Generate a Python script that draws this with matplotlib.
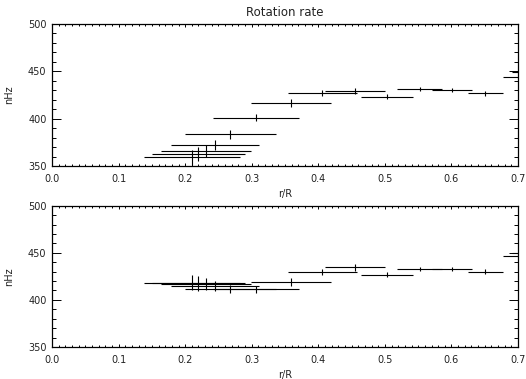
import matplotlib.pyplot as plt
from matplotlib.ticker import MultipleLocator

# radial positions and half-widths of the kernels (same for both panels)
r = [0.210, 0.220, 0.231, 0.245, 0.268, 0.307, 0.359, 0.406, 0.455, 0.503, 0.552, 0.601, 0.651, 0.707, 0.716]
r_err = [0.0716, 0.0701, 0.0676, 0.0663, 0.0681, 0.0646, 0.0601, 0.0514, 0.0451, 0.0385, 0.0345, 0.0305, 0.0263, 0.030, 0.025]

# top panel rotation rate (nHz)
rate_top = [359.2, 362.4, 365.8, 372.2, 383.5, 401.0, 416.6, 427.4, 429.5, 423.2, 431.3, 430.3, 426.8, 443.7, 449.6]
err_top = [7.9, 7.4, 6.1, 5.6, 4.8, 3.7, 3.9, 3.2, 3.4, 2.4, 2.3, 2.1, 2.4, 2.0, 2.0]

# bottom panel rotation rate (nHz)
rate_bot = [418.3, 417.6, 416.9, 415.1, 411.6, 411.3, 419.0, 429.3, 434.6, 426.8, 433.1, 432.8, 430.0, 446.9, 449.8]
err_bot = [8.0, 8.0, 6.7, 5.3, 4.0, 3.7, 3.9, 3.2, 3.4, 2.4, 2.3, 2.1, 2.4, 2.0, 2.0]

fig = plt.figure(figsize=(5.26, 3.79), dpi=100)
ax1 = fig.add_axes([0.0989, 0.562, 0.886, 0.3747])
ax2 = fig.add_axes([0.0989, 0.0844, 0.886, 0.3729])

for ax, rate, err in [(ax1, rate_top, err_top), (ax2, rate_bot, err_bot)]:
    ax.errorbar(r, rate, xerr=r_err, yerr=err, fmt='none', ecolor='black',
                elinewidth=0.8, capsize=0)
    ax.set_xlim(0, 0.7)
    ax.set_ylim(350, 500)
    ax.xaxis.set_major_locator(MultipleLocator(0.1))
    ax.xaxis.set_minor_locator(MultipleLocator(0.01))
    ax.yaxis.set_major_locator(MultipleLocator(50))
    ax.yaxis.set_minor_locator(MultipleLocator(10))
    ax.tick_params(axis='both', which='both', direction='in', top=True, right=True,
                   labelsize=7, width=0.7, color='black', labelcolor='#222222')
    ax.tick_params(axis='x', which='major', length=2.5, pad=6)
    ax.tick_params(axis='x', which='minor', length=1.3)
    ax.tick_params(axis='y', which='major', length=6.5, pad=4)
    ax.tick_params(axis='y', which='minor', length=3.2)
    ax.xaxis.set_major_formatter(plt.FormatStrFormatter('%.1f'))
    for s in ax.spines.values():
        s.set_linewidth(0.9)
    ax.set_xlabel('r/R', fontsize=7, labelpad=3, color='#222222')
    ax.set_ylabel('nHz', fontsize=7, labelpad=10, color='#222222')

ax1.set_title('Rotation rate', fontsize=8.5, pad=6, color='#222222')

fig.savefig('out.png', dpi=100)
